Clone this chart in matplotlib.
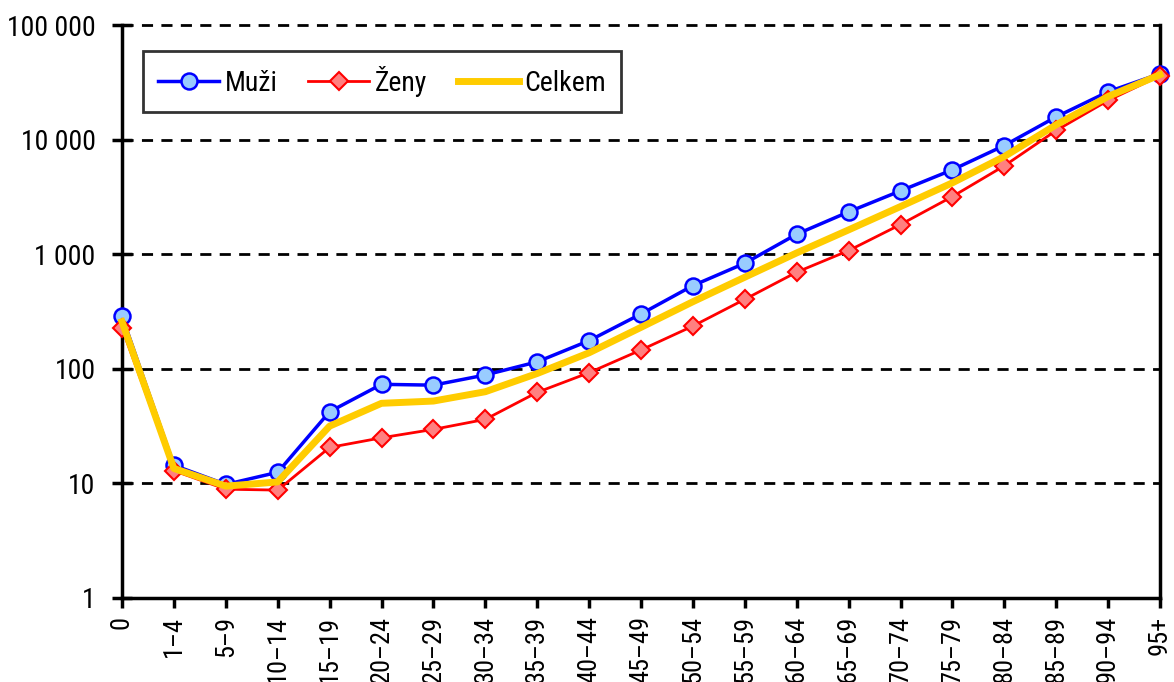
import matplotlib
matplotlib.use('Agg')
import matplotlib.pyplot as plt

plt.rcParams['font.family'] = ['Roboto Condensed', 'Archivo Narrow', 'DejaVu Sans']
plt.rcParams['font.stretch'] = 'condensed'

# věkové skupiny
kategorie = ['0', '1–4', '5–9', '10–14', '15–19', '20–24', '25–29', '30–34',
             '35–39', '40–44', '45–49', '50–54', '55–59', '60–64', '65–69',
             '70–74', '75–79', '80–84', '85–89', '90–94', '95+']

muzi = [289, 14.4, 9.8, 12.5, 42.2, 73.2, 72, 88.3, 115, 176, 301, 532, 834,
        1495, 2340, 3570, 5450, 8880, 15800, 26150, 37600]
zeny = [226, 12.9, 8.9, 8.74, 20.6, 25.0, 29.6, 36.2, 62.3, 92.5, 146, 236, 404,
        697, 1075, 1815, 3185, 5905, 12020, 21940, 36060]
celkem = [258, 13.5, 9.46, 10.3, 31.6, 50, 52.3, 63.1, 91, 138, 230, 385, 630,
          1026, 1630, 2605, 4195, 7115, 13460, 23780, 36810]

y_ticky = [1, 10, 100, 1000, 10000, 100000]
y_popisky = ['1', '10', '100', '1 000', '10 000', '100 000']

fig = plt.figure(figsize=(11.74, 6.82), dpi=100)
ax = fig.add_axes([122 / 1174, 1 - 598 / 682, 1038 / 1174, 573 / 682])

x = list(range(len(kategorie)))
ax.plot(x, muzi, color='#0000FF', lw=2.5, marker='o', ms=11.5,
        mfc='#99CCFF', mec='#0000FF', mew=1.8, label='Muži', clip_on=False, zorder=3)
ax.plot(x, zeny, color='#FF0000', lw=2.0, marker='D', ms=9,
        mfc='#FF8080', mec='#FF0000', mew=1.5, label='Ženy', clip_on=False, zorder=4)
ax.plot(x, celkem, color='#FFCC00', lw=5, label='Celkem', clip_on=False, zorder=5)

ax.set_yscale('log')
ax.set_ylim(1, 100000)
ax.set_xlim(0, len(kategorie) - 1)
ax.set_yticks(y_ticky)
ax.set_yticklabels(y_popisky)
ax.minorticks_off()
ax.set_xticks(x)
ax.set_xticklabels(kategorie, rotation=90)

for v in y_ticky[1:]:
    ax.axhline(v, color='black', lw=2, ls=(0, (4, 3)), zorder=1, clip_on=False)

ax.spines['top'].set_visible(False)
for s in ['left', 'right', 'bottom']:
    ax.spines[s].set_linewidth(2.5)
ax.tick_params(axis='both', width=2.5)
ax.tick_params(axis='y', direction='inout', length=14, pad=12, labelsize=20)
ax.tick_params(axis='x', direction='out', length=7, pad=6, labelsize=19)

leg = ax.legend(loc='upper left', bbox_to_anchor=(0.02, 0.955), ncol=3,
                fontsize=20, frameon=True, fancybox=False, edgecolor='black',
                handlelength=2.2, handletextpad=0.2, columnspacing=1.1,
                borderpad=0.55, borderaxespad=0)
leg.get_frame().set_linewidth(2)

fig.savefig('out.png', dpi=100)
